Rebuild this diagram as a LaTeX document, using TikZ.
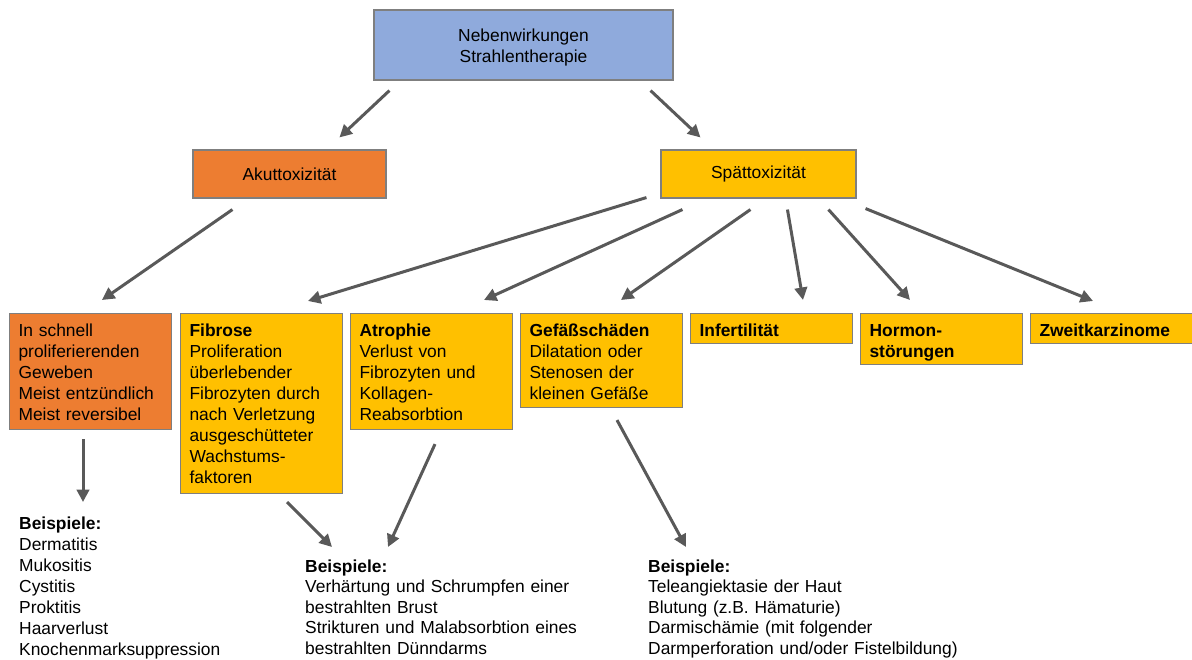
\documentclass[tikz,border=0pt]{standalone}
\usepackage{fontspec}
\setmainfont{Liberation Sans}
\usetikzlibrary{arrows.meta,calc}
\definecolor{topblue}{HTML}{8FAADC}
\definecolor{akutorange}{HTML}{ED7D31}
\definecolor{spaetgold}{HTML}{FFC000}
\definecolor{boxline}{HTML}{7F7F7F}
\definecolor{arrowgray}{HTML}{595959}
\tikzset{
  headbox/.style={draw=boxline, line width=1.1pt, fill=#1, align=center, inner sep=0pt},
  rowbox/.style={draw=boxline, line width=1.1pt, fill=#1, anchor=north west, align=left,
    text width=144pt, inner xsep=9pt, inner ysep=0pt, text height=23pt},
  bsptext/.style={anchor=base west, align=left, inner sep=0pt, text width=340pt},
  arr/.style={draw=arrowgray, line width=3pt, -{Triangle[length=12.5pt,width=12.5pt]}},
}

\begin{document}
\begin{tikzpicture}[x=1pt, y=-1pt, font=\fontsize{17.4pt}{21pt}\selectfont]
\useasboundingbox (0,0) rectangle (1192,660);
%
% Oberste Ebene
\node[headbox=topblue, minimum width=299pt, minimum height=70pt, text height=39pt, text depth=3.7pt] (neben) at (523.5,45) {Nebenwirkungen\\Strahlentherapie};
\node[headbox=akutorange, minimum width=193pt, minimum height=48pt] (akut) at (289.5,174) {Akuttoxizität};
\node[headbox=spaetgold, minimum width=195pt, minimum height=48pt] (spaet) at (758.5,174) {Spättoxizität};
% Zeile der Kaesten
\node[rowbox=akutorange, text depth=93pt] (schnell) at (9,313) {In schnell\\proliferierenden\\Geweben\\Meist entzündlich\\Meist reversibel};
\node[rowbox=spaetgold, text depth=157pt] (fibrose) at (180,313) {\textbf{Fibrose}\\Proliferation\\überlebender\\Fibrozyten durch\\nach Verletzung\\ausgeschütteter\\Wachstums-\\faktoren};
\node[rowbox=spaetgold, text depth=93pt] (atrophie) at (350,313) {\textbf{Atrophie}\\Verlust von\\Fibrozyten und\\Kollagen-\\Reabsorbtion};
\node[rowbox=spaetgold, text depth=71pt] (gefaess) at (520,313) {\textbf{Gefäßschäden}\\Dilatation oder\\Stenosen der\\kleinen Gefäße};
\node[rowbox=spaetgold, text depth=7pt] (infert) at (690,313) {\textbf{Infertilität}};
\node[rowbox=spaetgold, text depth=28pt] (hormon) at (860,313) {\textbf{Hormon-}\\\textbf{störungen}};
\node[rowbox=spaetgold, text depth=7pt] (zweit) at (1030,313) {\textbf{Zweitkarzinome}};
% Beispiele
\node[bsptext] (bspakut) at (19,529) {\textbf{Beispiele:}\\Dermatitis\\Mukositis\\Cystitis\\Proktitis\\Haarverlust\\Knochenmarksuppression};
\node[bsptext, font=\fontsize{17.4pt}{20.5pt}\selectfont] (bspfibro) at (305,572) {\textbf{Beispiele:}\\Verhärtung und Schrumpfen einer\\bestrahlten Brust\\Strikturen und Malabsorbtion eines\\bestrahlten Dünndarms};
\node[bsptext, font=\fontsize{17.4pt}{20.5pt}\selectfont] (bspgef) at (648,572) {\textbf{Beispiele:}\\Teleangiektasie der Haut\\Blutung (z.B. Hämaturie)\\Darmischämie (mit folgender\\Darmperforation und/oder Fistelbildung)};
% Pfeile
\draw[arr] ($(neben.south west)+(16,10)$) -- ($(akut.north west)+(147,-12)$);
\draw[arr] ($(neben.south east)+(-23,10)$) -- ($(spaet.north west)+(40,-12)$);
\draw[arr] ($(akut.south west)+(40,11)$) -- ($(schnell.north west)+(93,-13)$);
\draw[arr] ($(spaet.south west)+(-14,-1)$) -- ($(fibrose.north west)+(128,-12)$);
\draw[arr] ($(spaet.south west)+(22,11)$) -- ($(atrophie.north west)+(134,-13)$);
\draw[arr] ($(spaet.south west)+(90,11)$) -- ($(gefaess.north west)+(101,-13)$);
\draw[arr] ($(spaet.south west)+(127,11)$) -- ($(infert.north west)+(113,-13)$);
\draw[arr] ($(spaet.south west)+(168,11)$) -- ($(hormon.north west)+(50,-13)$);
\draw[arr] ($(spaet.south east)+(9,10)$) -- ($(zweit.north west)+(63,-12)$);
\draw[arr] ($(schnell.south west)+(74,9)$) -- ($(bspakut.base west)+(64,-27)$);
\draw[arr] ($(fibrose.south west)+(107,8)$) -- ($(bspfibro.base west)+(27,-25)$);
\draw[arr] ($(atrophie.south west)+(85,14)$) -- ($(bspfibro.base west)+(83,-25)$);
\draw[arr] ($(gefaess.south west)+(97,12)$) -- ($(bspgef.base west)+(38,-25)$);
\end{tikzpicture}
\end{document}
